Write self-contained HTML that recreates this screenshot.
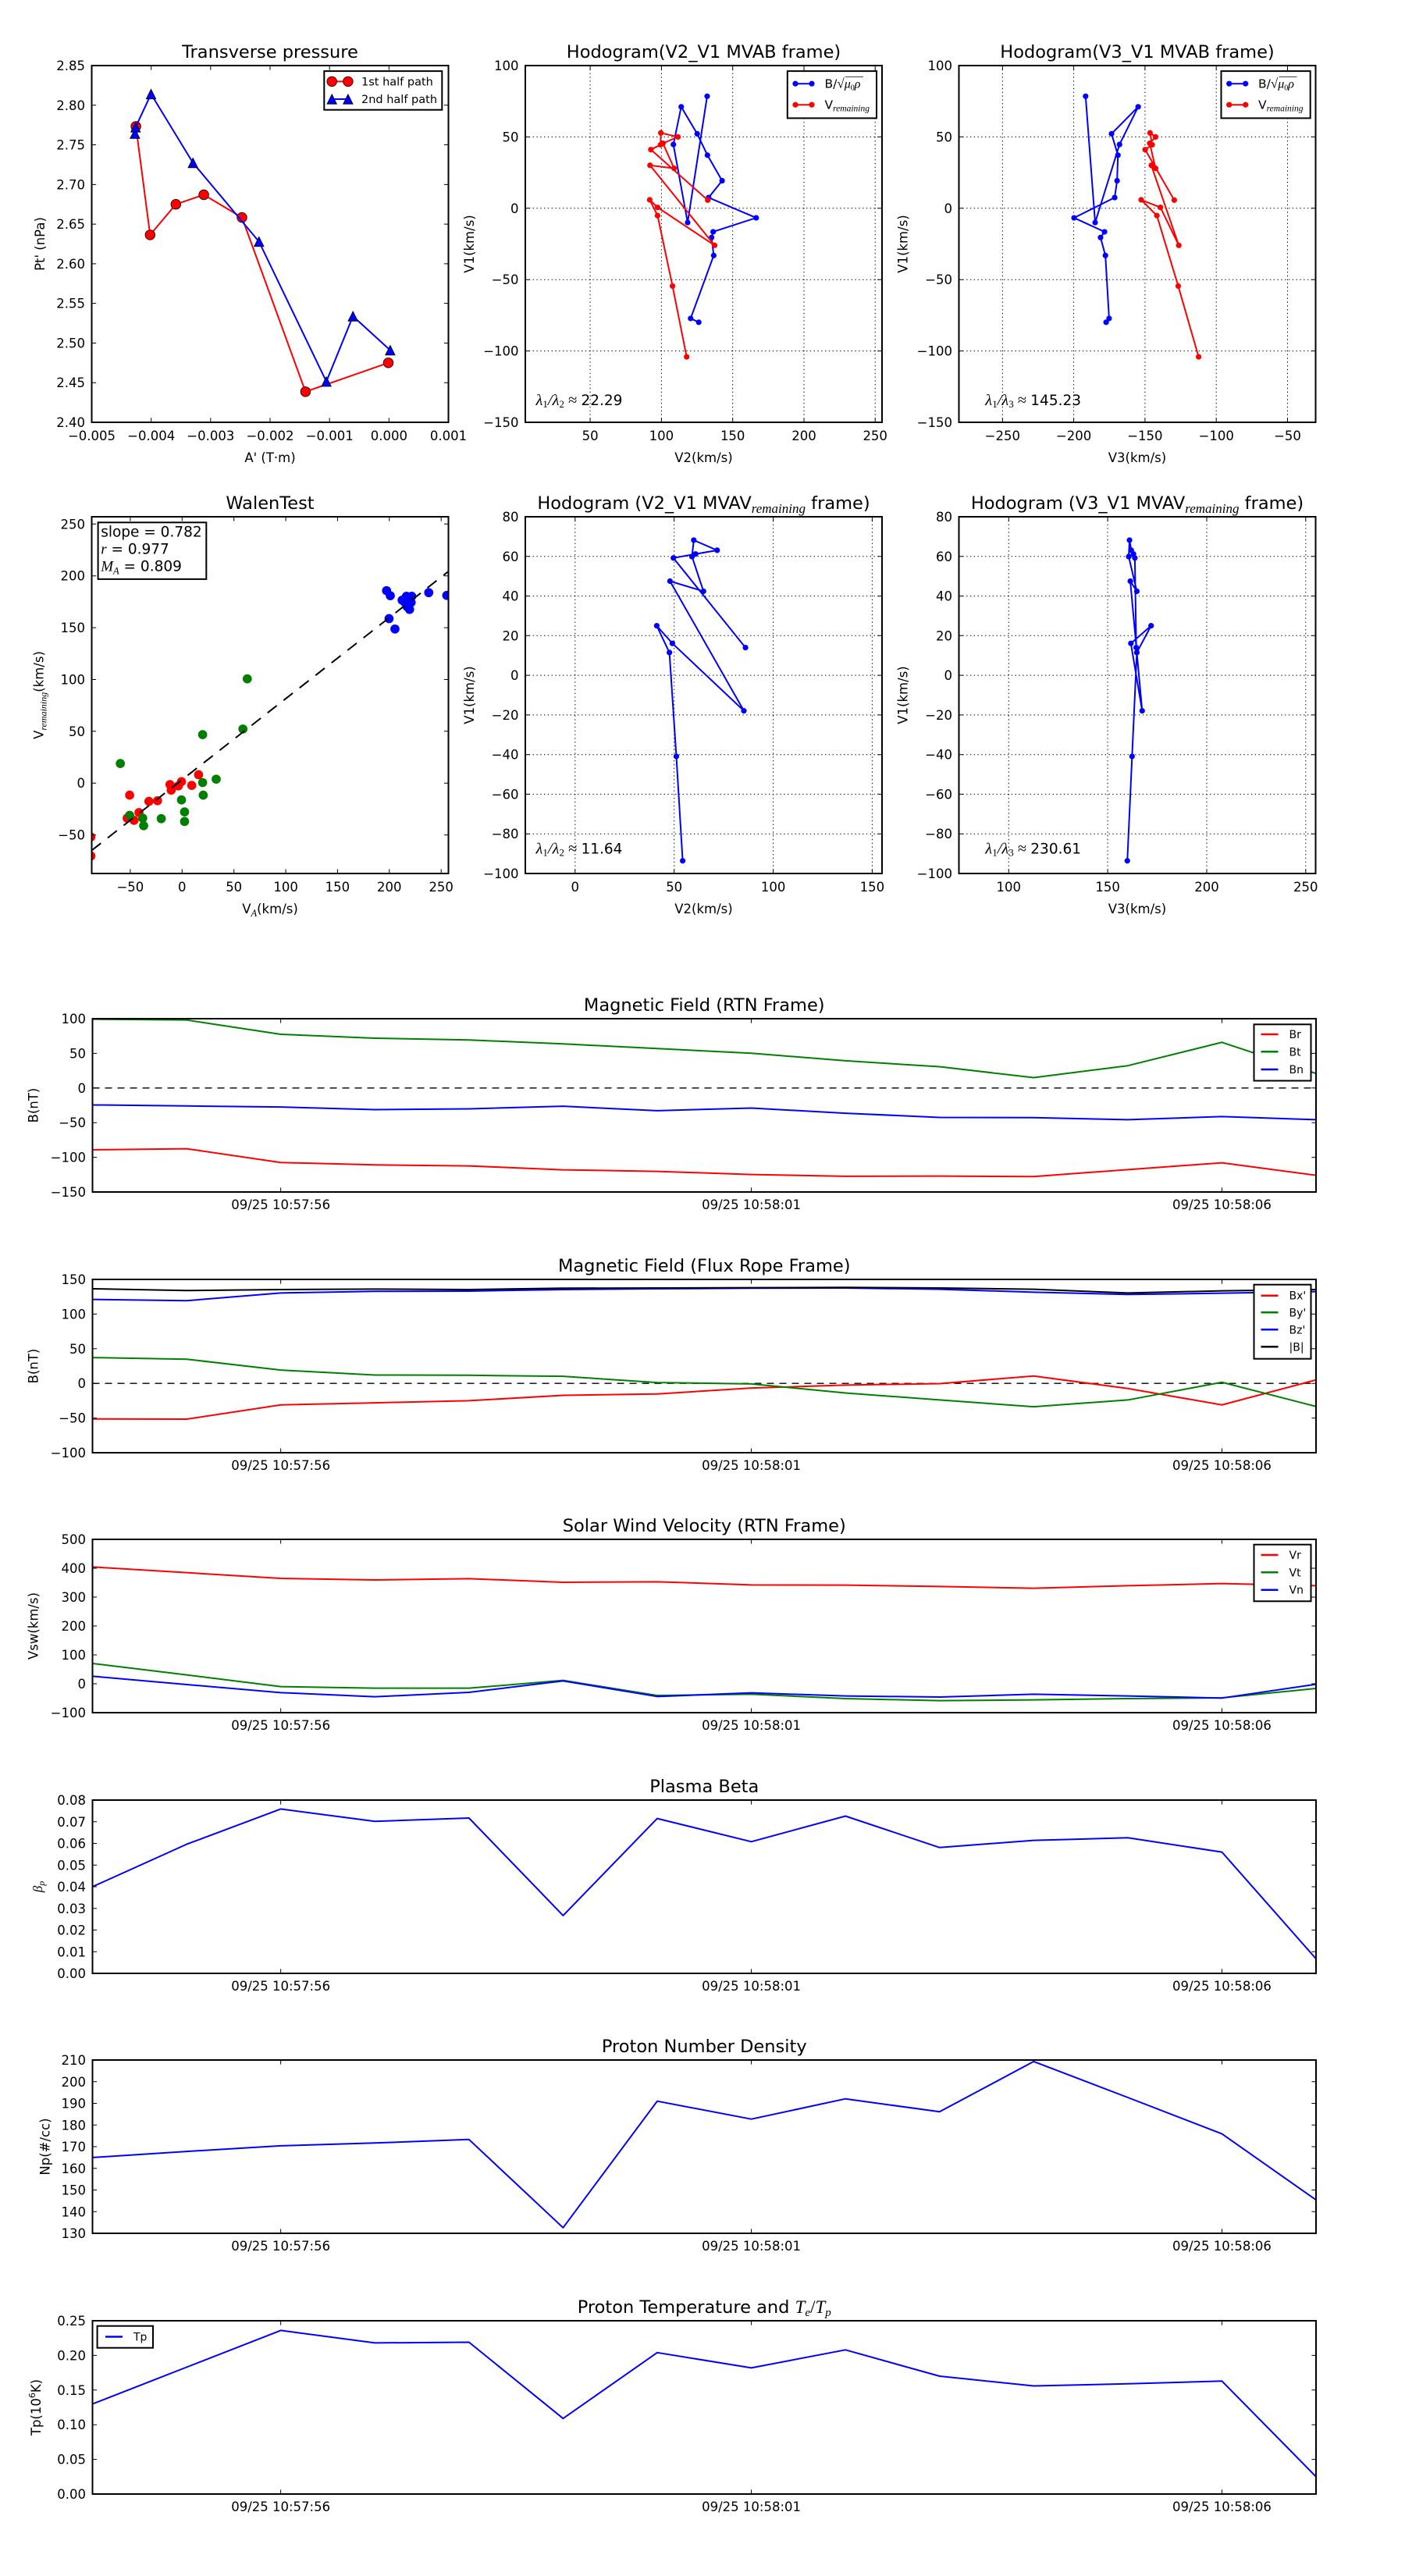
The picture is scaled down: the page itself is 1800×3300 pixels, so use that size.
<!DOCTYPE html>
<html><head><meta charset="utf-8"><style>html,body{margin:0;padding:0;background:#fff}svg{display:block}</style></head>
<body>
<svg xmlns="http://www.w3.org/2000/svg" width="1800" height="3300" viewBox="0 0 1800 3300" font-family="'DejaVu Sans', sans-serif" fill="#000">
<defs>
<clipPath id="c1"><rect x="117.5" y="84" width="457" height="457"/></clipPath>
<clipPath id="c2"><rect x="673" y="84" width="457" height="457"/></clipPath>
<clipPath id="c3"><rect x="1228.5" y="84" width="457" height="457"/></clipPath>
<clipPath id="c4"><rect x="117.5" y="662" width="457" height="457"/></clipPath>
<clipPath id="c5"><rect x="673" y="662" width="457" height="457"/></clipPath>
<clipPath id="c6"><rect x="1228.5" y="662" width="457" height="457"/></clipPath>
<clipPath id="t1"><rect x="118.5" y="1305" width="1567.5" height="222"/></clipPath>
<clipPath id="t2"><rect x="118.5" y="1639" width="1567.5" height="222"/></clipPath>
<clipPath id="t3"><rect x="118.5" y="1972" width="1567.5" height="222"/></clipPath>
<clipPath id="t4"><rect x="118.5" y="2306" width="1567.5" height="222"/></clipPath>
<clipPath id="t5"><rect x="118.5" y="2639" width="1567.5" height="222"/></clipPath>
<clipPath id="t6"><rect x="118.5" y="2973" width="1567.5" height="222"/></clipPath>
<path id="tri" d="M0,-6.2L-6.2,6.2L6.2,6.2Z" fill="#00f" stroke="#000" stroke-width="0.8"/>
</defs>
<rect width="1800" height="3300" fill="#fff"/>

<!-- ================= P1 Transverse pressure ================= -->
<g clip-path="url(#c1)">
<polyline points="174.1,161.9 192.3,300.9 225.3,261.7 261.1,249.5 310.0,278.6 391.4,501.8 497.5,464.8" fill="none" stroke="#f00" stroke-width="2"/>
<g fill="#f00" stroke="#000" stroke-width="0.8">
<circle cx="174.1" cy="161.9" r="6.3"/><circle cx="192.3" cy="300.9" r="6.3"/><circle cx="225.3" cy="261.7" r="6.3"/><circle cx="261.1" cy="249.5" r="6.3"/><circle cx="310.0" cy="278.6" r="6.3"/><circle cx="391.4" cy="501.8" r="6.3"/><circle cx="497.5" cy="464.8" r="6.3"/>
</g>
<polyline points="172.9,171.2 173.7,163.0 193.5,120.5 247.2,208.6 331.8,309.5 418.1,488.8 452.2,405.1 499.9,448.6" fill="none" stroke="#00f" stroke-width="2"/>
<use href="#tri" x="172.9" y="171.2"/><use href="#tri" x="173.7" y="163.0"/><use href="#tri" x="193.5" y="120.5"/><use href="#tri" x="247.2" y="208.6"/><use href="#tri" x="331.8" y="309.5"/><use href="#tri" x="418.1" y="488.8"/><use href="#tri" x="452.2" y="405.1"/><use href="#tri" x="499.9" y="448.6"/>
</g>
<path d="M193.67 541v-5.6M269.83 541v-5.6M346 541v-5.6M422.17 541v-5.6M498.33 541v-5.6M193.67 84v5.6M269.83 84v5.6M346 84v5.6M422.17 84v5.6M498.33 84v5.6M117.5 490.22h5.6M117.5 439.44h5.6M117.5 388.67h5.6M117.5 337.89h5.6M117.5 287.11h5.6M117.5 236.33h5.6M117.5 185.56h5.6M117.5 134.78h5.6M574.5 490.22h-5.6M574.5 439.44h-5.6M574.5 388.67h-5.6M574.5 337.89h-5.6M574.5 287.11h-5.6M574.5 236.33h-5.6M574.5 185.56h-5.6M574.5 134.78h-5.6" stroke="#000" stroke-width="1" fill="none"/>
<rect x="117.5" y="84" width="457" height="457" fill="none" stroke="#000" stroke-width="2"/>
<rect x="415.3" y="91.1" width="151" height="49.6" fill="#fff" stroke="#000" stroke-width="2"/>
<line x1="425.2" y1="104.4" x2="445.9" y2="104.4" stroke="#f00" stroke-width="2"/>
<circle cx="425.2" cy="104.4" r="6.3" fill="#f00" stroke="#000" stroke-width="0.8"/><circle cx="445.9" cy="104.4" r="6.3" fill="#f00" stroke="#000" stroke-width="0.8"/>
<text x="463" y="109.6" font-size="14.5">1st half path</text>
<line x1="425.2" y1="127" x2="445.9" y2="127" stroke="#00f" stroke-width="2"/>
<use href="#tri" x="425.2" y="127"/><use href="#tri" x="445.9" y="127"/>
<text x="463" y="132.2" font-size="14.5">2nd half path</text>
<g font-size="16.5" text-anchor="middle">
<text x="117.5" y="564">−0.005</text><text x="193.67" y="564">−0.004</text><text x="269.83" y="564">−0.003</text><text x="346" y="564">−0.002</text><text x="422.17" y="564">−0.001</text><text x="498.33" y="564">0.000</text><text x="574.5" y="564">0.001</text>
</g>
<g font-size="16.5" text-anchor="end">
<text x="109" y="547">2.40</text><text x="109" y="496.2">2.45</text><text x="109" y="445.4">2.50</text><text x="109" y="394.7">2.55</text><text x="109" y="343.9">2.60</text><text x="109" y="293.1">2.65</text><text x="109" y="242.3">2.70</text><text x="109" y="191.6">2.75</text><text x="109" y="140.8">2.80</text><text x="109" y="90">2.85</text>
</g>
<text x="346" y="74" font-size="22.5" text-anchor="middle">Transverse pressure</text>
<text x="346" y="592" font-size="16.5" text-anchor="middle">A' (T·m)</text>
<text transform="translate(57,312.5) rotate(-90)" font-size="16.5" text-anchor="middle">Pt' (nPa)</text>

<!-- ================= P2 Hodogram V2_V1 MVAB ================= -->
<path d="M756.1 84V541M847.4 84V541M938.7 84V541M1030 84V541M1121.2 84V541M673 175.4H1130M673 266.8H1130M673 358.2H1130M673 449.6H1130" stroke="#000" stroke-width="1" stroke-dasharray="1.4 3.4" fill="none"/>
<g clip-path="url(#c2)"><g transform="matrix(1.8258 0 0 -1.828 664.78 266.8)">
<polyline points="132.1,78.5 118.4,-10 108.4,44.7 113.9,71.1 125.1,52.2 132.3,37.2 142.6,19.3 133.1,7.5 166.5,-6.7 136.3,-16.5 135.2,-20.5 136.7,-33.1 120.5,-77.2 126.2,-79.9" fill="none" stroke="#00f" stroke-width="2" vector-effect="non-scaling-stroke"/>
<g fill="#00f"><circle cx="132.1" cy="78.5" r="1.97"/><circle cx="118.4" cy="-10" r="1.97"/><circle cx="108.4" cy="44.7" r="1.97"/><circle cx="113.9" cy="71.1" r="1.97"/><circle cx="125.1" cy="52.2" r="1.97"/><circle cx="132.3" cy="37.2" r="1.97"/><circle cx="142.6" cy="19.3" r="1.97"/><circle cx="133.1" cy="7.5" r="1.97"/><circle cx="166.5" cy="-6.7" r="1.97"/><circle cx="136.3" cy="-16.5" r="1.97"/><circle cx="135.2" cy="-20.5" r="1.97"/><circle cx="136.7" cy="-33.1" r="1.97"/><circle cx="120.5" cy="-77.2" r="1.97"/><circle cx="126.2" cy="-79.9" r="1.97"/></g>
<polyline points="117.7,-104.1 107.8,-54.5 97.3,-5.1 91.8,5.9 97.3,0.6 137.3,-26 92,30.1 108.9,28 101.1,45.5 111.6,50 99.6,52.8 99.4,44.5 92.6,41.1 132.5,5.7" fill="none" stroke="#f00" stroke-width="2" vector-effect="non-scaling-stroke"/>
<g fill="#f00"><circle cx="117.7" cy="-104.1" r="1.97"/><circle cx="107.8" cy="-54.5" r="1.97"/><circle cx="97.3" cy="-5.1" r="1.97"/><circle cx="91.8" cy="5.9" r="1.97"/><circle cx="97.3" cy="0.6" r="1.97"/><circle cx="137.3" cy="-26" r="1.97"/><circle cx="92" cy="30.1" r="1.97"/><circle cx="108.9" cy="28" r="1.97"/><circle cx="101.1" cy="45.5" r="1.97"/><circle cx="111.6" cy="50" r="1.97"/><circle cx="99.6" cy="52.8" r="1.97"/><circle cx="99.4" cy="44.5" r="1.97"/><circle cx="92.6" cy="41.1" r="1.97"/><circle cx="132.5" cy="5.7" r="1.97"/></g>
</g></g>
<path d="M756.1 541v-5.6M847.4 541v-5.6M938.7 541v-5.6M1030 541v-5.6M1121.2 541v-5.6M756.1 84v5.6M847.4 84v5.6M938.7 84v5.6M1030 84v5.6M1121.2 84v5.6M673 175.4h5.6M673 266.8h5.6M673 358.2h5.6M673 449.6h5.6M1130 175.4h-5.6M1130 266.8h-5.6M1130 358.2h-5.6M1130 449.6h-5.6" stroke="#000" stroke-width="1" fill="none"/>
<rect x="673" y="84" width="457" height="457" fill="none" stroke="#000" stroke-width="2"/>
<rect x="1008.8" y="91.1" width="114.2" height="60.3" fill="#fff" stroke="#000" stroke-width="2"/>
<line x1="1019" y1="107.2" x2="1040" y2="107.2" stroke="#00f" stroke-width="2"/><circle cx="1019" cy="107.2" r="3.6" fill="#00f"/><circle cx="1040" cy="107.2" r="3.6" fill="#00f"/>
<text x="1056.5" y="112.5" font-size="15.5">B/<tspan font-family="'Liberation Serif', serif" font-size="17">√</tspan><tspan font-family="'Liberation Serif', serif" font-style="italic" font-size="16">μ</tspan><tspan font-family="'Liberation Serif', serif" font-size="10" dy="3">0</tspan><tspan font-family="'Liberation Serif', serif" font-style="italic" font-size="16" dy="-3">ρ</tspan></text>
<line x1="1083" y1="98.5" x2="1106" y2="98.5" stroke="#000" stroke-width="0.8"/>
<line x1="1019" y1="134.2" x2="1040" y2="134.2" stroke="#f00" stroke-width="2"/><circle cx="1019" cy="134.2" r="3.6" fill="#f00"/><circle cx="1040" cy="134.2" r="3.6" fill="#f00"/>
<text x="1056.5" y="139.5" font-size="15.5">V<tspan font-family="'Liberation Serif', serif" font-style="italic" font-size="11.5" dy="3">remaining</tspan></text>
<text x="686.5" y="519" font-size="18.5"><tspan font-family="'Liberation Serif', serif" font-style="italic" font-size="20.5">λ</tspan><tspan font-family="'Liberation Serif', serif" font-size="13" dy="3">1</tspan><tspan font-family="'Liberation Serif', serif" font-style="italic" font-size="20.5" dy="-3">/λ</tspan><tspan font-family="'Liberation Serif', serif" font-size="13" dy="3">2</tspan><tspan font-family="'Liberation Serif', serif" font-size="20.5" dy="-3"> ≈ </tspan>22.29</text>
<g font-size="16.5" text-anchor="middle">
<text x="756.1" y="564">50</text><text x="847.4" y="564">100</text><text x="938.7" y="564">150</text><text x="1030" y="564">200</text><text x="1121.2" y="564">250</text>
</g>
<g font-size="16.5" text-anchor="end">
<text x="664.5" y="90">100</text><text x="664.5" y="181.4">50</text><text x="664.5" y="272.8">0</text><text x="664.5" y="364.2">−50</text><text x="664.5" y="455.6">−100</text><text x="664.5" y="547">−150</text>
</g>
<text x="901.5" y="74" font-size="22.5" text-anchor="middle">Hodogram(V2_V1 MVAB frame)</text>
<text x="901.5" y="592" font-size="16.5" text-anchor="middle">V2(km/s)</text>
<text transform="translate(607,312.5) rotate(-90)" font-size="16.5" text-anchor="middle">V1(km/s)</text>

<!-- ================= P3 Hodogram V3_V1 MVAB ================= -->
<path d="M1284.35 84V541M1375.6 84V541M1466.9 84V541M1558.2 84V541M1649.5 84V541M1228.5 175.4H1685.5M1228.5 266.8H1685.5M1228.5 358.2H1685.5M1228.5 449.6H1685.5" stroke="#000" stroke-width="1" stroke-dasharray="1.4 3.4" fill="none"/>
<g clip-path="url(#c3)"><g transform="matrix(1.8258 0 0 -1.828 1740.8 266.8)">
<polyline points="-191.7,78.5 -185,-10 -167.9,44.7 -154.8,71.1 -173.5,52.2 -169,37.2 -169.6,19.3 -171.3,7.5 -199.8,-6.7 -178.4,-16.5 -181.2,-20.5 -177.8,-33.1 -175.2,-77.2 -177.3,-79.9" fill="none" stroke="#00f" stroke-width="2" vector-effect="non-scaling-stroke"/>
<g fill="#00f"><circle cx="-191.7" cy="78.5" r="1.97"/><circle cx="-185" cy="-10" r="1.97"/><circle cx="-167.9" cy="44.7" r="1.97"/><circle cx="-154.8" cy="71.1" r="1.97"/><circle cx="-173.5" cy="52.2" r="1.97"/><circle cx="-169" cy="37.2" r="1.97"/><circle cx="-169.6" cy="19.3" r="1.97"/><circle cx="-171.3" cy="7.5" r="1.97"/><circle cx="-199.8" cy="-6.7" r="1.97"/><circle cx="-178.4" cy="-16.5" r="1.97"/><circle cx="-181.2" cy="-20.5" r="1.97"/><circle cx="-177.8" cy="-33.1" r="1.97"/><circle cx="-175.2" cy="-77.2" r="1.97"/><circle cx="-177.3" cy="-79.9" r="1.97"/></g>
<polyline points="-112.4,-104.1 -126.7,-54.5 -141.7,-5.1 -152.7,5.9 -139.2,0.6 -126.3,-26 -145.6,30.1 -142.6,28 -146.7,45.5 -142.6,50 -146.5,52.8 -145,44.5 -149.9,41.1 -129.5,5.7" fill="none" stroke="#f00" stroke-width="2" vector-effect="non-scaling-stroke"/>
<g fill="#f00"><circle cx="-112.4" cy="-104.1" r="1.97"/><circle cx="-126.7" cy="-54.5" r="1.97"/><circle cx="-141.7" cy="-5.1" r="1.97"/><circle cx="-152.7" cy="5.9" r="1.97"/><circle cx="-139.2" cy="0.6" r="1.97"/><circle cx="-126.3" cy="-26" r="1.97"/><circle cx="-145.6" cy="30.1" r="1.97"/><circle cx="-142.6" cy="28" r="1.97"/><circle cx="-146.7" cy="45.5" r="1.97"/><circle cx="-142.6" cy="50" r="1.97"/><circle cx="-146.5" cy="52.8" r="1.97"/><circle cx="-145" cy="44.5" r="1.97"/><circle cx="-149.9" cy="41.1" r="1.97"/><circle cx="-129.5" cy="5.7" r="1.97"/></g>
</g></g>
<path d="M1284.35 541v-5.6M1375.6 541v-5.6M1466.9 541v-5.6M1558.2 541v-5.6M1649.5 541v-5.6M1284.35 84v5.6M1375.6 84v5.6M1466.9 84v5.6M1558.2 84v5.6M1649.5 84v5.6M1228.5 175.4h5.6M1228.5 266.8h5.6M1228.5 358.2h5.6M1228.5 449.6h5.6M1685.5 175.4h-5.6M1685.5 266.8h-5.6M1685.5 358.2h-5.6M1685.5 449.6h-5.6" stroke="#000" stroke-width="1" fill="none"/>
<rect x="1228.5" y="84" width="457" height="457" fill="none" stroke="#000" stroke-width="2"/>
<rect x="1564.5" y="91.1" width="114.2" height="60.3" fill="#fff" stroke="#000" stroke-width="2"/>
<line x1="1574.7" y1="107.2" x2="1595.7" y2="107.2" stroke="#00f" stroke-width="2"/><circle cx="1574.7" cy="107.2" r="3.6" fill="#00f"/><circle cx="1595.7" cy="107.2" r="3.6" fill="#00f"/>
<text x="1612" y="112.5" font-size="15.5">B/<tspan font-family="'Liberation Serif', serif" font-size="17">√</tspan><tspan font-family="'Liberation Serif', serif" font-style="italic" font-size="16">μ</tspan><tspan font-family="'Liberation Serif', serif" font-size="10" dy="3">0</tspan><tspan font-family="'Liberation Serif', serif" font-style="italic" font-size="16" dy="-3">ρ</tspan></text>
<line x1="1638.5" y1="98.5" x2="1661.5" y2="98.5" stroke="#000" stroke-width="0.8"/>
<line x1="1574.7" y1="134.2" x2="1595.7" y2="134.2" stroke="#f00" stroke-width="2"/><circle cx="1574.7" cy="134.2" r="3.6" fill="#f00"/><circle cx="1595.7" cy="134.2" r="3.6" fill="#f00"/>
<text x="1612" y="139.5" font-size="15.5">V<tspan font-family="'Liberation Serif', serif" font-style="italic" font-size="11.5" dy="3">remaining</tspan></text>
<text x="1262.3" y="519" font-size="18.5"><tspan font-family="'Liberation Serif', serif" font-style="italic" font-size="20.5">λ</tspan><tspan font-family="'Liberation Serif', serif" font-size="13" dy="3">1</tspan><tspan font-family="'Liberation Serif', serif" font-style="italic" font-size="20.5" dy="-3">/λ</tspan><tspan font-family="'Liberation Serif', serif" font-size="13" dy="3">3</tspan><tspan font-family="'Liberation Serif', serif" font-size="20.5" dy="-3"> ≈ </tspan>145.23</text>
<g font-size="16.5" text-anchor="middle">
<text x="1284.35" y="564">−250</text><text x="1375.6" y="564">−200</text><text x="1466.9" y="564">−150</text><text x="1558.2" y="564">−100</text><text x="1649.5" y="564">−50</text>
</g>
<g font-size="16.5" text-anchor="end">
<text x="1220" y="90">100</text><text x="1220" y="181.4">50</text><text x="1220" y="272.8">0</text><text x="1220" y="364.2">−50</text><text x="1220" y="455.6">−100</text><text x="1220" y="547">−150</text>
</g>
<text x="1457" y="74" font-size="22.5" text-anchor="middle">Hodogram(V3_V1 MVAB frame)</text>
<text x="1457" y="592" font-size="16.5" text-anchor="middle">V3(km/s)</text>
<text transform="translate(1162.5,312.5) rotate(-90)" font-size="16.5" text-anchor="middle">V1(km/s)</text>

<!-- ================= P4 Walen test ================= -->
<g clip-path="url(#c4)"><g transform="matrix(1.3277 0 0 -1.3277 233.28 1003.22)">
<g fill="#f00"><circle cx="-88" cy="-51.9" r="4.4"/><circle cx="-88" cy="-70.3" r="4.4"/><circle cx="-50.6" cy="-11.6" r="4.4"/><circle cx="-53" cy="-33.8" r="4.4"/><circle cx="-46.4" cy="-35.9" r="4.4"/><circle cx="-41.6" cy="-28.4" r="4.4"/><circle cx="-32" cy="-17.6" r="4.4"/><circle cx="-23.7" cy="-17" r="4.4"/><circle cx="-11.7" cy="-1.4" r="4.4"/><circle cx="-10.5" cy="-6.8" r="4.4"/><circle cx="-3.6" cy="-2.7" r="4.4"/><circle cx="-0.6" cy="1.4" r="4.4"/><circle cx="9.3" cy="-2.2" r="4.4"/><circle cx="15.9" cy="8.1" r="4.4"/></g>
<g fill="#008000"><circle cx="-59.6" cy="18.9" r="4.4"/><circle cx="-50.6" cy="-31.1" r="4.4"/><circle cx="-38" cy="-33.8" r="4.4"/><circle cx="-37.1" cy="-41.1" r="4.4"/><circle cx="-20.1" cy="-34.3" r="4.4"/><circle cx="-0.6" cy="-16.2" r="4.4"/><circle cx="2.4" cy="-27.8" r="4.4"/><circle cx="2.4" cy="-37" r="4.4"/><circle cx="19.8" cy="46.8" r="4.4"/><circle cx="19.8" cy="0.5" r="4.4"/><circle cx="20.4" cy="-11.6" r="4.4"/><circle cx="32.9" cy="3.8" r="4.4"/><circle cx="58.7" cy="52.2" r="4.4"/><circle cx="62.9" cy="100.6" r="4.4"/></g>
<g fill="#00f"><circle cx="197.3" cy="185.7" r="4.4"/><circle cx="200.9" cy="180.8" r="4.4"/><circle cx="199.7" cy="158.7" r="4.4"/><circle cx="205.4" cy="148.7" r="4.4"/><circle cx="212.3" cy="176.5" r="4.4"/><circle cx="216.5" cy="180.3" r="4.4"/><circle cx="219.5" cy="167.6" r="4.4"/><circle cx="221.6" cy="180.3" r="4.4"/><circle cx="217.1" cy="170.3" r="4.4"/><circle cx="221" cy="174.3" r="4.4"/><circle cx="238" cy="183.8" r="4.4"/><circle cx="255.4" cy="181.1" r="4.4"/><circle cx="215" cy="174.3" r="4.4"/><circle cx="218.9" cy="177" r="4.4"/></g>
</g>
<line x1="117.5" y1="1089.4" x2="574.5" y2="732" stroke="#000" stroke-width="2" stroke-dasharray="15 11"/>
</g>
<path d="M166.9 1119v-5.6M233.3 1119v-5.6M299.7 1119v-5.6M366.1 1119v-5.6M432.4 1119v-5.6M498.8 1119v-5.6M565.2 1119v-5.6M166.9 662v5.6M233.3 662v5.6M299.7 662v5.6M366.1 662v5.6M432.4 662v5.6M498.8 662v5.6M565.2 662v5.6M117.5 1069.6h5.6M117.5 1003.2h5.6M117.5 936.8h5.6M117.5 870.5h5.6M117.5 804.1h5.6M117.5 737.7h5.6M117.5 671.3h5.6M574.5 1069.6h-5.6M574.5 1003.2h-5.6M574.5 936.8h-5.6M574.5 870.5h-5.6M574.5 804.1h-5.6M574.5 737.7h-5.6M574.5 671.3h-5.6" stroke="#000" stroke-width="1" fill="none"/>
<rect x="117.5" y="662" width="457" height="457" fill="none" stroke="#000" stroke-width="2"/>
<rect x="125.6" y="669.3" width="138.7" height="72.6" fill="#fff" stroke="#000" stroke-width="2"/>
<text x="129.2" y="687.5" font-size="18.5">slope = 0.782</text>
<text x="129.2" y="709.3" font-size="18.5"><tspan font-family="'Liberation Serif', serif" font-style="italic" font-size="19">r</tspan> = 0.977</text>
<text x="129.2" y="731.5" font-size="18.5"><tspan font-family="'Liberation Serif', serif" font-style="italic" font-size="19">M</tspan><tspan font-family="'Liberation Serif', serif" font-style="italic" font-size="12.5" dy="4">A</tspan><tspan dy="-4"> = 0.809</tspan></text>
<g font-size="16.5" text-anchor="middle">
<text x="166.9" y="1142">−50</text><text x="233.3" y="1142">0</text><text x="299.7" y="1142">50</text><text x="366.1" y="1142">100</text><text x="432.4" y="1142">150</text><text x="498.8" y="1142">200</text><text x="565.2" y="1142">250</text>
</g>
<g font-size="16.5" text-anchor="end">
<text x="109" y="1075.6">−50</text><text x="109" y="1009.2">0</text><text x="109" y="942.8">50</text><text x="109" y="876.5">100</text><text x="109" y="810.1">150</text><text x="109" y="743.7">200</text><text x="109" y="677.3">250</text>
</g>
<text x="346" y="652" font-size="22.5" text-anchor="middle">WalenTest</text>
<text x="346" y="1170" font-size="16.5" text-anchor="middle">V<tspan font-family="'Liberation Serif', serif" font-style="italic" font-size="12.5" dy="4">A</tspan><tspan dy="-4">(km/s)</tspan></text>
<text transform="translate(55.7,890.5) rotate(-90)" font-size="16.5" text-anchor="middle">V<tspan font-family="'Liberation Serif', serif" font-style="italic" font-size="12" dy="4">remaining</tspan><tspan dy="-4">(km/s)</tspan></text>

<!-- ================= P5 Hodogram V2_V1 MVAV ================= -->
<path d="M736.8 662V1119M863.7 662V1119M990.6 662V1119M1117.4 662V1119M673 712.8H1130M673 763.6H1130M673 814.3H1130M673 865.1H1130M673 915.9H1130M673 966.7H1130M673 1017.4H1130M673 1068.2H1130" stroke="#000" stroke-width="1" stroke-dasharray="1.4 3.4" fill="none"/>
<g clip-path="url(#c5)"><g transform="matrix(2.5375 0 0 -2.5389 736.82 865.11)">
<polyline points="54.3,-93.6 51.1,-40.9 47.6,11.5 41.2,25 49.1,16.1 85.2,-17.9 47.9,47.5 64.8,42.4 59,59.9 59.9,68.2 71.7,63.1 60.8,61.2 49.6,59.2 86,14" fill="none" stroke="#00f" stroke-width="2" vector-effect="non-scaling-stroke"/>
<g fill="#00f"><circle cx="54.3" cy="-93.6" r="1.42"/><circle cx="51.1" cy="-40.9" r="1.42"/><circle cx="47.6" cy="11.5" r="1.42"/><circle cx="41.2" cy="25" r="1.42"/><circle cx="49.1" cy="16.1" r="1.42"/><circle cx="85.2" cy="-17.9" r="1.42"/><circle cx="47.9" cy="47.5" r="1.42"/><circle cx="64.8" cy="42.4" r="1.42"/><circle cx="59" cy="59.9" r="1.42"/><circle cx="59.9" cy="68.2" r="1.42"/><circle cx="71.7" cy="63.1" r="1.42"/><circle cx="60.8" cy="61.2" r="1.42"/><circle cx="49.6" cy="59.2" r="1.42"/><circle cx="86" cy="14" r="1.42"/></g>
</g></g>
<path d="M736.8 1119v-5.6M863.7 1119v-5.6M990.6 1119v-5.6M1117.4 1119v-5.6M736.8 662v5.6M863.7 662v5.6M990.6 662v5.6M1117.4 662v5.6M673 712.8h5.6M673 763.6h5.6M673 814.3h5.6M673 865.1h5.6M673 915.9h5.6M673 966.7h5.6M673 1017.4h5.6M673 1068.2h5.6M1130 712.8h-5.6M1130 763.6h-5.6M1130 814.3h-5.6M1130 865.1h-5.6M1130 915.9h-5.6M1130 966.7h-5.6M1130 1017.4h-5.6M1130 1068.2h-5.6" stroke="#000" stroke-width="1" fill="none"/>
<rect x="673" y="662" width="457" height="457" fill="none" stroke="#000" stroke-width="2"/>
<text x="686.5" y="1093.5" font-size="18.5"><tspan font-family="'Liberation Serif', serif" font-style="italic" font-size="20.5">λ</tspan><tspan font-family="'Liberation Serif', serif" font-size="13" dy="3">1</tspan><tspan font-family="'Liberation Serif', serif" font-style="italic" font-size="20.5" dy="-3">/λ</tspan><tspan font-family="'Liberation Serif', serif" font-size="13" dy="3">2</tspan><tspan font-family="'Liberation Serif', serif" font-size="20.5" dy="-3"> ≈ </tspan>11.64</text>
<g font-size="16.5" text-anchor="middle">
<text x="736.8" y="1142">0</text><text x="863.7" y="1142">50</text><text x="990.6" y="1142">100</text><text x="1117.4" y="1142">150</text>
</g>
<g font-size="16.5" text-anchor="end">
<text x="664.5" y="668">80</text><text x="664.5" y="718.8">60</text><text x="664.5" y="769.6">40</text><text x="664.5" y="820.3">20</text><text x="664.5" y="871.1">0</text><text x="664.5" y="921.9">−20</text><text x="664.5" y="972.7">−40</text><text x="664.5" y="1023.4">−60</text><text x="664.5" y="1074.2">−80</text><text x="664.5" y="1125">−100</text>
</g>
<text x="901.5" y="652" font-size="22.5" text-anchor="middle">Hodogram (V2_V1 MVAV<tspan font-family="'Liberation Serif', serif" font-style="italic" font-size="17" dy="5">remaining</tspan><tspan dy="-5"> frame)</tspan></text>
<text x="901.5" y="1170" font-size="16.5" text-anchor="middle">V2(km/s)</text>
<text transform="translate(607,890.5) rotate(-90)" font-size="16.5" text-anchor="middle">V1(km/s)</text>

<!-- ================= P6 Hodogram V3_V1 MVAV ================= -->
<path d="M1292.3 662V1119M1419.1 662V1119M1546 662V1119M1672.8 662V1119M1228.5 712.8H1685.5M1228.5 763.6H1685.5M1228.5 814.3H1685.5M1228.5 865.1H1685.5M1228.5 915.9H1685.5M1228.5 966.7H1685.5M1228.5 1017.4H1685.5M1228.5 1068.2H1685.5" stroke="#000" stroke-width="1" stroke-dasharray="1.4 3.4" fill="none"/>
<g clip-path="url(#c6)"><g transform="matrix(2.5368 0 0 -2.5389 1038.62 865.11)">
<polyline points="159.9,-93.6 162.3,-40.9 164.7,11.5 171.9,25 161.7,16.1 167.4,-17.9 161.4,47.5 164.7,42.4 160.6,59.9 161,68.2 161.9,63.1 163,61.2 163.7,59.2 164.4,14" fill="none" stroke="#00f" stroke-width="2" vector-effect="non-scaling-stroke"/>
<g fill="#00f"><circle cx="159.9" cy="-93.6" r="1.42"/><circle cx="162.3" cy="-40.9" r="1.42"/><circle cx="164.7" cy="11.5" r="1.42"/><circle cx="171.9" cy="25" r="1.42"/><circle cx="161.7" cy="16.1" r="1.42"/><circle cx="167.4" cy="-17.9" r="1.42"/><circle cx="161.4" cy="47.5" r="1.42"/><circle cx="164.7" cy="42.4" r="1.42"/><circle cx="160.6" cy="59.9" r="1.42"/><circle cx="161" cy="68.2" r="1.42"/><circle cx="161.9" cy="63.1" r="1.42"/><circle cx="163" cy="61.2" r="1.42"/><circle cx="163.7" cy="59.2" r="1.42"/><circle cx="164.4" cy="14" r="1.42"/></g>
</g></g>
<path d="M1292.3 1119v-5.6M1419.1 1119v-5.6M1546 1119v-5.6M1672.8 1119v-5.6M1292.3 662v5.6M1419.1 662v5.6M1546 662v5.6M1672.8 662v5.6M1228.5 712.8h5.6M1228.5 763.6h5.6M1228.5 814.3h5.6M1228.5 865.1h5.6M1228.5 915.9h5.6M1228.5 966.7h5.6M1228.5 1017.4h5.6M1228.5 1068.2h5.6M1685.5 712.8h-5.6M1685.5 763.6h-5.6M1685.5 814.3h-5.6M1685.5 865.1h-5.6M1685.5 915.9h-5.6M1685.5 966.7h-5.6M1685.5 1017.4h-5.6M1685.5 1068.2h-5.6" stroke="#000" stroke-width="1" fill="none"/>
<rect x="1228.5" y="662" width="457" height="457" fill="none" stroke="#000" stroke-width="2"/>
<text x="1262.3" y="1093.5" font-size="18.5"><tspan font-family="'Liberation Serif', serif" font-style="italic" font-size="20.5">λ</tspan><tspan font-family="'Liberation Serif', serif" font-size="13" dy="3">1</tspan><tspan font-family="'Liberation Serif', serif" font-style="italic" font-size="20.5" dy="-3">/λ</tspan><tspan font-family="'Liberation Serif', serif" font-size="13" dy="3">3</tspan><tspan font-family="'Liberation Serif', serif" font-size="20.5" dy="-3"> ≈ </tspan>230.61</text>
<g font-size="16.5" text-anchor="middle">
<text x="1292.3" y="1142">100</text><text x="1419.1" y="1142">150</text><text x="1546" y="1142">200</text><text x="1672.8" y="1142">250</text>
</g>
<g font-size="16.5" text-anchor="end">
<text x="1220" y="668">80</text><text x="1220" y="718.8">60</text><text x="1220" y="769.6">40</text><text x="1220" y="820.3">20</text><text x="1220" y="871.1">0</text><text x="1220" y="921.9">−20</text><text x="1220" y="972.7">−40</text><text x="1220" y="1023.4">−60</text><text x="1220" y="1074.2">−80</text><text x="1220" y="1125">−100</text>
</g>
<text x="1457" y="652" font-size="22.5" text-anchor="middle">Hodogram (V3_V1 MVAV<tspan font-family="'Liberation Serif', serif" font-style="italic" font-size="17" dy="5">remaining</tspan><tspan dy="-5"> frame)</tspan></text>
<text x="1457" y="1170" font-size="16.5" text-anchor="middle">V3(km/s)</text>
<text transform="translate(1162.5,890.5) rotate(-90)" font-size="16.5" text-anchor="middle">V1(km/s)</text>

<!-- ================= TS1 Magnetic Field RTN ================= -->
<line x1="118.5" y1="1393.8" x2="1686" y2="1393.8" stroke="#000" stroke-width="1.4" stroke-dasharray="9 7"/>
<g clip-path="url(#t1)"><g transform="matrix(120.58 0 0 -0.888 118.5 1393.8)" fill="none" stroke-width="2" stroke-linejoin="round">
<polyline vector-effect="non-scaling-stroke" stroke="#f00" points="0,-89.1 1,-87.6 2,-107.5 3,-110.9 4,-112.4 5,-118 6,-120.3 7,-124.8 8,-127.4 9,-127 10,-127.8 11,-117.7 12,-107.9 13,-126"/>
<polyline vector-effect="non-scaling-stroke" stroke="#008000" points="0,99.3 1,98.1 2,77.5 3,71.9 4,69.3 5,63.7 6,56.9 7,50.2 8,39.3 9,30.7 10,15 11,32.2 12,65.9 13,20.9"/>
<polyline vector-effect="non-scaling-stroke" stroke="#00f" points="0,-24.4 1,-25.9 2,-27.4 3,-31.2 4,-30 5,-26.3 6,-32.7 7,-28.9 8,-36.4 9,-42.4 10,-42.7 11,-45.7 12,-41.2 13,-45.7"/>
</g></g>
<path d="M359.66 1527v-5.6M962.56 1527v-5.6M1565.46 1527v-5.6M359.66 1305v5.6M962.56 1305v5.6M1565.46 1305v5.6M118.5 1349.4h5.6M118.5 1393.8h5.6M118.5 1438.2h5.6M118.5 1482.6h5.6M1686 1349.4h-5.6M1686 1393.8h-5.6M1686 1438.2h-5.6M1686 1482.6h-5.6" stroke="#000" stroke-width="1" fill="none"/>
<rect x="118.5" y="1305" width="1567.5" height="222" fill="none" stroke="#000" stroke-width="2"/>
<rect x="1606.5" y="1312.3" width="73" height="72.2" fill="#fff" stroke="#000" stroke-width="2"/>
<line x1="1615.5" y1="1325" x2="1637.5" y2="1325" stroke="#f00" stroke-width="2.5"/><text x="1651.5" y="1330" font-size="14">Br</text>
<line x1="1615.5" y1="1347.3" x2="1637.5" y2="1347.3" stroke="#008000" stroke-width="2.5"/><text x="1651.5" y="1352.3" font-size="14">Bt</text>
<line x1="1615.5" y1="1370" x2="1637.5" y2="1370" stroke="#00f" stroke-width="2.5"/><text x="1651.5" y="1375" font-size="14">Bn</text>
<g font-size="16.5" text-anchor="end">
<text x="110" y="1311">100</text><text x="110" y="1355.4">50</text><text x="110" y="1399.8">0</text><text x="110" y="1444.2">−50</text><text x="110" y="1488.6">−100</text><text x="110" y="1533">−150</text>
</g>
<g font-size="16.5" text-anchor="middle">
<text x="359.66" y="1549">09/25 10:57:56</text><text x="962.56" y="1549">09/25 10:58:01</text><text x="1565.46" y="1549">09/25 10:58:06</text>
</g>
<text x="902.25" y="1295" font-size="22.5" text-anchor="middle">Magnetic Field (RTN Frame)</text>
<text transform="translate(48.7,1416) rotate(-90)" font-size="16.5" text-anchor="middle">B(nT)</text>

<!-- ================= TS2 Magnetic Field Flux Rope ================= -->
<line x1="118.5" y1="1772.2" x2="1686" y2="1772.2" stroke="#000" stroke-width="1.4" stroke-dasharray="9 7"/>
<g clip-path="url(#t2)"><g transform="matrix(120.58 0 0 -0.888 118.5 1772.2)" fill="none" stroke-width="2" stroke-linejoin="round">
<polyline vector-effect="non-scaling-stroke" stroke="#f00" points="0,-51.3 1,-51.6 2,-31 3,-28 4,-25 5,-17.2 6,-15.3 7,-6.7 8,-2.5 9,-0.3 10,10.6 11,-7.4 12,-31 13,5"/>
<polyline vector-effect="non-scaling-stroke" stroke="#008000" points="0,37.2 1,34.9 2,19.2 3,12.1 4,11.7 5,10.2 6,1.2 7,-0.7 8,-13.8 9,-23.9 10,-33.7 11,-23.9 12,1.6 13,-33.3"/>
<polyline vector-effect="non-scaling-stroke" stroke="#00f" points="0,121.1 1,119.3 2,130.5 3,132.8 4,133.1 5,135.4 6,136.5 7,137.3 8,137.6 9,135.8 10,131.6 11,128.3 12,130.1 13,132.4"/>
<polyline vector-effect="non-scaling-stroke" stroke="#000" points="0,136.5 1,133.9 2,135.4 3,136.1 4,135.4 5,137.3 6,137.6 7,138 8,138.4 9,137.6 10,135.8 11,130.5 12,133.5 13,135.4"/>
</g></g>
<path d="M359.66 1861v-5.6M962.56 1861v-5.6M1565.46 1861v-5.6M359.66 1639v5.6M962.56 1639v5.6M1565.46 1639v5.6M118.5 1683.4h5.6M118.5 1727.8h5.6M118.5 1772.2h5.6M118.5 1816.6h5.6M1686 1683.4h-5.6M1686 1727.8h-5.6M1686 1772.2h-5.6M1686 1816.6h-5.6" stroke="#000" stroke-width="1" fill="none"/>
<rect x="118.5" y="1639" width="1567.5" height="222" fill="none" stroke="#000" stroke-width="2"/>
<rect x="1606.5" y="1645.7" width="73" height="95" fill="#fff" stroke="#000" stroke-width="2"/>
<line x1="1615.5" y1="1659.7" x2="1637.5" y2="1659.7" stroke="#f00" stroke-width="2.5"/><text x="1651.5" y="1664.7" font-size="14">Bx'</text>
<line x1="1615.5" y1="1681.3" x2="1637.5" y2="1681.3" stroke="#008000" stroke-width="2.5"/><text x="1651.5" y="1686.3" font-size="14">By'</text>
<line x1="1615.5" y1="1703.3" x2="1637.5" y2="1703.3" stroke="#00f" stroke-width="2.5"/><text x="1651.5" y="1708.3" font-size="14">Bz'</text>
<line x1="1615.5" y1="1725.3" x2="1637.5" y2="1725.3" stroke="#000" stroke-width="2.5"/><text x="1651.5" y="1730.3" font-size="14">|B|</text>
<g font-size="16.5" text-anchor="end">
<text x="110" y="1645">150</text><text x="110" y="1689.4">100</text><text x="110" y="1733.8">50</text><text x="110" y="1778.2">0</text><text x="110" y="1822.6">−50</text><text x="110" y="1867">−100</text>
</g>
<g font-size="16.5" text-anchor="middle">
<text x="359.66" y="1883">09/25 10:57:56</text><text x="962.56" y="1883">09/25 10:58:01</text><text x="1565.46" y="1883">09/25 10:58:06</text>
</g>
<text x="902.25" y="1629" font-size="22.5" text-anchor="middle">Magnetic Field (Flux Rope Frame)</text>
<text transform="translate(48.7,1750) rotate(-90)" font-size="16.5" text-anchor="middle">B(nT)</text>

<!-- ================= TS3 Solar Wind Velocity ================= -->
<g clip-path="url(#t3)"><g transform="matrix(120.58 0 0 -0.37 118.5 2157)" fill="none" stroke-width="2" stroke-linejoin="round">
<polyline vector-effect="non-scaling-stroke" stroke="#f00" points="0,404.5 1,384.7 2,364.9 3,359.5 4,364 5,351.3 6,353.2 7,342.3 8,341.4 9,336.9 10,330.6 11,339.6 12,346.8 13,339.6"/>
<polyline vector-effect="non-scaling-stroke" stroke="#008000" points="0,70.3 1,30.6 2,-9.9 3,-15.3 4,-15.3 5,11.7 6,-40.5 7,-36 8,-51.3 9,-58.5 10,-55.8 11,-51.3 12,-48.6 13,-16.2"/>
<polyline vector-effect="non-scaling-stroke" stroke="#00f" points="0,26.1 1,-2.7 2,-30.6 3,-45 4,-29.7 5,9.9 6,-44.1 7,-31.5 8,-42.3 9,-45.9 10,-36 11,-42.3 12,-49.5 13,-1.8"/>
</g></g>
<path d="M359.66 2194v-5.6M962.56 2194v-5.6M1565.46 2194v-5.6M359.66 1972v5.6M962.56 1972v5.6M1565.46 1972v5.6M118.5 2009h5.6M118.5 2046h5.6M118.5 2083h5.6M118.5 2120h5.6M118.5 2157h5.6M1686 2009h-5.6M1686 2046h-5.6M1686 2083h-5.6M1686 2120h-5.6M1686 2157h-5.6" stroke="#000" stroke-width="1" fill="none"/>
<rect x="118.5" y="1972" width="1567.5" height="222" fill="none" stroke="#000" stroke-width="2"/>
<rect x="1606.5" y="1978.7" width="73" height="72.6" fill="#fff" stroke="#000" stroke-width="2"/>
<line x1="1615.5" y1="1992" x2="1637.5" y2="1992" stroke="#f00" stroke-width="2.5"/><text x="1651.5" y="1997" font-size="14">Vr</text>
<line x1="1615.5" y1="2014.3" x2="1637.5" y2="2014.3" stroke="#008000" stroke-width="2.5"/><text x="1651.5" y="2019.3" font-size="14">Vt</text>
<line x1="1615.5" y1="2036.7" x2="1637.5" y2="2036.7" stroke="#00f" stroke-width="2.5"/><text x="1651.5" y="2041.7" font-size="14">Vn</text>
<g font-size="16.5" text-anchor="end">
<text x="110" y="1978">500</text><text x="110" y="2015">400</text><text x="110" y="2052">300</text><text x="110" y="2089">200</text><text x="110" y="2126">100</text><text x="110" y="2163">0</text><text x="110" y="2200">−100</text>
</g>
<g font-size="16.5" text-anchor="middle">
<text x="359.66" y="2216">09/25 10:57:56</text><text x="962.56" y="2216">09/25 10:58:01</text><text x="1565.46" y="2216">09/25 10:58:06</text>
</g>
<text x="902.25" y="1962" font-size="22.5" text-anchor="middle">Solar Wind Velocity (RTN Frame)</text>
<text transform="translate(48.7,2083) rotate(-90)" font-size="16.5" text-anchor="middle">Vsw(km/s)</text>

<!-- ================= TS4 Plasma Beta ================= -->
<g clip-path="url(#t4)"><g transform="matrix(120.58 0 0 1 118.5 0)">
<polyline vector-effect="non-scaling-stroke" fill="none" stroke="#00f" stroke-width="2" stroke-linejoin="round" points="0,2417 1,2362.6 2,2317.4 3,2333.2 4,2329 5,2453.9 6,2329.6 7,2359.3 8,2326.5 9,2366.8 10,2357.6 11,2354.3 12,2372.6 13,2509.4"/>
</g></g>
<path d="M359.66 2528v-5.6M962.56 2528v-5.6M1565.46 2528v-5.6M359.66 2306v5.6M962.56 2306v5.6M1565.46 2306v5.6M118.5 2333.75h5.6M118.5 2361.5h5.6M118.5 2389.25h5.6M118.5 2417h5.6M118.5 2444.75h5.6M118.5 2472.5h5.6M118.5 2500.25h5.6M1686 2333.75h-5.6M1686 2361.5h-5.6M1686 2389.25h-5.6M1686 2417h-5.6M1686 2444.75h-5.6M1686 2472.5h-5.6M1686 2500.25h-5.6" stroke="#000" stroke-width="1" fill="none"/>
<rect x="118.5" y="2306" width="1567.5" height="222" fill="none" stroke="#000" stroke-width="2"/>
<g font-size="16.5" text-anchor="end">
<text x="110" y="2312">0.08</text><text x="110" y="2339.75">0.07</text><text x="110" y="2367.5">0.06</text><text x="110" y="2395.25">0.05</text><text x="110" y="2423">0.04</text><text x="110" y="2450.75">0.03</text><text x="110" y="2478.5">0.02</text><text x="110" y="2506.25">0.01</text><text x="110" y="2534">0.00</text>
</g>
<g font-size="16.5" text-anchor="middle">
<text x="359.66" y="2550">09/25 10:57:56</text><text x="962.56" y="2550">09/25 10:58:01</text><text x="1565.46" y="2550">09/25 10:58:06</text>
</g>
<text x="902.25" y="2296" font-size="22.5" text-anchor="middle">Plasma Beta</text>
<text transform="translate(54,2417) rotate(-90)" font-size="17" text-anchor="middle" font-family="'Liberation Serif', serif" font-style="italic">β<tspan font-size="12" dy="3">p</tspan></text>

<!-- ================= TS5 Proton Number Density ================= -->
<g clip-path="url(#t5)"><g transform="matrix(120.58 0 0 1 118.5 0)">
<polyline vector-effect="non-scaling-stroke" fill="none" stroke="#00f" stroke-width="2" stroke-linejoin="round" points="0,2763.9 1,2756.1 2,2748.9 3,2745.3 4,2740.8 5,2853.8 6,2691.7 7,2714.7 8,2688.7 9,2705.3 10,2640.9 11,2687 12,2733.6 13,2818.2"/>
</g></g>
<path d="M359.66 2861v-5.6M962.56 2861v-5.6M1565.46 2861v-5.6M359.66 2639v5.6M962.56 2639v5.6M1565.46 2639v5.6M118.5 2666.75h5.6M118.5 2694.5h5.6M118.5 2722.25h5.6M118.5 2750h5.6M118.5 2777.75h5.6M118.5 2805.5h5.6M118.5 2833.25h5.6M1686 2666.75h-5.6M1686 2694.5h-5.6M1686 2722.25h-5.6M1686 2750h-5.6M1686 2777.75h-5.6M1686 2805.5h-5.6M1686 2833.25h-5.6" stroke="#000" stroke-width="1" fill="none"/>
<rect x="118.5" y="2639" width="1567.5" height="222" fill="none" stroke="#000" stroke-width="2"/>
<g font-size="16.5" text-anchor="end">
<text x="110" y="2645">210</text><text x="110" y="2672.75">200</text><text x="110" y="2700.5">190</text><text x="110" y="2728.25">180</text><text x="110" y="2756">170</text><text x="110" y="2783.75">160</text><text x="110" y="2811.5">150</text><text x="110" y="2839.25">140</text><text x="110" y="2867">130</text>
</g>
<g font-size="16.5" text-anchor="middle">
<text x="359.66" y="2883">09/25 10:57:56</text><text x="962.56" y="2883">09/25 10:58:01</text><text x="1565.46" y="2883">09/25 10:58:06</text>
</g>
<text x="902.25" y="2629" font-size="22.5" text-anchor="middle">Proton Number Density</text>
<text transform="translate(63.7,2750) rotate(-90)" font-size="16.5" text-anchor="middle">Np(#/cc)</text>

<!-- ================= TS6 Proton Temperature ================= -->
<g clip-path="url(#t6)"><g transform="matrix(120.58 0 0 1 118.5 0)">
<polyline vector-effect="non-scaling-stroke" fill="none" stroke="#00f" stroke-width="2" stroke-linejoin="round" points="0,3079.6 1,3032.5 2,2985.4 3,3001.4 4,3000.5 5,3098.2 6,3013.8 7,3033.4 8,3010.3 9,3044 10,3056.5 11,3053.8 12,3050.3 13,3172.8"/>
</g></g>
<path d="M359.66 3195v-5.6M962.56 3195v-5.6M1565.46 3195v-5.6M359.66 2973v5.6M962.56 2973v5.6M1565.46 2973v5.6M118.5 3017.4h5.6M118.5 3061.8h5.6M118.5 3106.2h5.6M118.5 3150.6h5.6M1686 3017.4h-5.6M1686 3061.8h-5.6M1686 3106.2h-5.6M1686 3150.6h-5.6" stroke="#000" stroke-width="1" fill="none"/>
<rect x="118.5" y="2973" width="1567.5" height="222" fill="none" stroke="#000" stroke-width="2"/>
<rect x="124.6" y="2979.7" width="71.4" height="28" fill="#fff" stroke="#000" stroke-width="2"/>
<line x1="135" y1="2993.5" x2="157" y2="2993.5" stroke="#00f" stroke-width="2.5"/><text x="171" y="2998.5" font-size="14">Tp</text>
<g font-size="16.5" text-anchor="end">
<text x="110" y="2979">0.25</text><text x="110" y="3023.4">0.20</text><text x="110" y="3067.8">0.15</text><text x="110" y="3112.2">0.10</text><text x="110" y="3156.6">0.05</text><text x="110" y="3201">0.00</text>
</g>
<g font-size="16.5" text-anchor="middle">
<text x="359.66" y="3217">09/25 10:57:56</text><text x="962.56" y="3217">09/25 10:58:01</text><text x="1565.46" y="3217">09/25 10:58:06</text>
</g>
<text x="902.25" y="2963" font-size="22.5" text-anchor="middle">Proton Temperature and <tspan font-family="'Liberation Serif', serif" font-style="italic" font-size="23">T</tspan><tspan font-family="'Liberation Serif', serif" font-style="italic" font-size="15" dy="4">e</tspan><tspan font-family="'Liberation Serif', serif" font-size="23" dy="-4">/</tspan><tspan font-family="'Liberation Serif', serif" font-style="italic" font-size="23">T</tspan><tspan font-family="'Liberation Serif', serif" font-style="italic" font-size="15" dy="4">p</tspan></text>
<text transform="translate(52,3084) rotate(-90)" font-size="16.5" text-anchor="middle">Tp(10<tspan font-size="11" dy="-7">6</tspan><tspan dy="7">K)</tspan></text>

</svg>
</body></html>
